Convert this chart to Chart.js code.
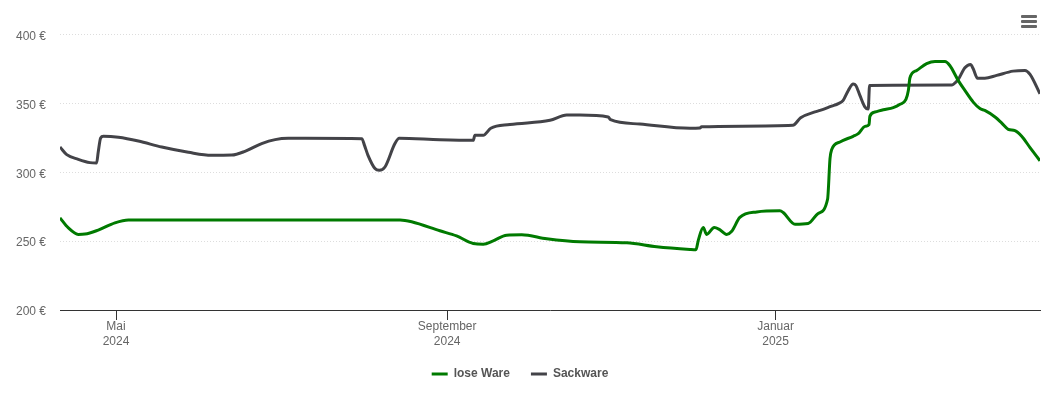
<!DOCTYPE html>
<html lang="de">
<head>
<meta charset="utf-8">
<title>Preisentwicklung</title>
<script src="https://cdn.jsdelivr.net/npm/chart.js@4"></script>
<style>
    body { margin: 0; background: #fff; }
    #wrap { position: relative; width: 1050px; height: 400px; }
    #menu { position: absolute; left: 1021px; top: 15px; width: 16px; }
    #menu i { display: block; height: 3px; margin-bottom: 2px; background: #666; border-radius: 1px; }
</style>
</head>
<body>
<div id="wrap">
    <canvas id="chart" width="1050" height="400"></canvas>
    <div id="menu"><i></i><i></i><i></i></div>
</div>
<script>
// x values are days counted from 1 May 2024
const xMin = -20.8;
const xMax = 343.2;
const tickDays = [0, 123, 245];
const tickLabels = [['Mai', '2024'], ['September', '2024'], ['Januar', '2025']];
const priceTicks = [200, 250, 300, 350, 400];

const looseName = 'lose Ware';
const looseDays = [-20.8, -17.7, -14, -11.5, -6.6, -0.4, 4.6, 9.5, 105.5, 109.8, 120.3, 126.5, 132.7, 136.4, 140.1, 145.1, 150.7, 160, 172.3, 189.7, 200.8, 213.2, 215.4, 216.3, 218.1, 219.4, 222.2, 224.1, 226.8, 228.7, 231.7, 238, 246.6, 247.8, 252.2, 257.1, 260.8, 264.3, 265.2, 265.8, 268.9, 273.8, 275.7, 278.2, 279.7, 280, 281.9, 285, 288.7, 291.2, 293.4, 294.3, 294.9, 297.4, 301.1, 304.2, 307.9, 309.7, 312.8, 315.3, 318.4, 320.9, 322.7, 326.5, 329, 331.4, 333.9, 336.4, 339.5, 343.2];
const loosePrices = [266.9, 259.6, 254.9, 255.1, 258, 263.3, 265.4, 265.4, 265.4, 264.1, 257.5, 253.8, 248.3, 247.8, 250.2, 254.3, 254.6, 251.7, 249.5, 248.8, 245.9, 244, 243.8, 250.7, 259.9, 254.9, 259.9, 258.5, 254.9, 257.2, 267.2, 271.2, 272, 270.8, 262.3, 262.8, 270.1, 280.4, 309.9, 316.4, 322, 326.1, 328, 333.3, 334.6, 340.6, 343.7, 345.4, 346.9, 349.3, 352.9, 359.4, 368.6, 373.9, 378.8, 380.4, 380.4, 377.5, 366.7, 359.4, 350.9, 346.2, 344.9, 340.1, 335.7, 331.2, 330.2, 326.1, 317.9, 308.3];

const sackName = 'Sackware';
const sackDays = [-20.8, -18.3, -14, -9.7, -7.2, -6.6, -5.7, -4.7, 0.9, 8.3, 17, 26.9, 35.5, 43, 47.9, 54.1, 59.1, 64, 70.2, 91.3, 92.3, 93.6, 96.2, 97.8, 99.9, 103.6, 105.2, 120.3, 132.7, 133.3, 136.4, 139.2, 146.3, 161.2, 167.4, 172.3, 182.8, 183.7, 194.6, 213.2, 216.9, 217.5, 251.4, 254.3, 259.6, 261.5, 265.8, 268.3, 270.1, 272, 273.8, 274.8, 276.3, 278.2, 279.4, 279.9, 310.4, 311, 312.8, 315.3, 317.4, 318.4, 320, 322.7, 327.1, 333.2, 337.6, 339.5, 343.2];
const sackPrices = [318.3, 312.8, 309.4, 307, 306.7, 314.7, 324.9, 326.1, 325.4, 322.7, 318.3, 314.5, 312.3, 312.5, 315.2, 320.8, 323.7, 324.6, 324.6, 324.4, 319.5, 312.3, 302.7, 301.4, 303.8, 320.8, 324.6, 323.6, 323.2, 326.8, 326.8, 331.9, 334.6, 337.7, 341.5, 341.5, 340.1, 338.2, 335, 331.9, 332.2, 333, 334.1, 339.6, 343.8, 344.9, 348, 349.8, 352.2, 359.4, 364, 363, 355.8, 347.3, 345.9, 363, 363.3, 363.8, 367.2, 375.9, 378.3, 375.1, 368.3, 368.3, 370.3, 373.4, 373.9, 371, 356.9];

const toPoints = (days, prices) => days.map((d, i) => ({ x: d, y: prices[i] }));

const lineStyle = {
    borderWidth: 3,
    pointRadius: 0,
    cubicInterpolationMode: 'monotone',
    clip: 0
};

const fontFamily = '"Liberation Sans", Arial, sans-serif';

new Chart(document.getElementById('chart'), {
    type: 'line',
    data: {
        datasets: [
            { label: looseName, data: toPoints(looseDays, loosePrices), borderColor: '#007a00', backgroundColor: '#007a00', ...lineStyle },
            { label: sackName, data: toPoints(sackDays, sackPrices), borderColor: '#434348', backgroundColor: '#434348', ...lineStyle }
        ]
    },
    options: {
        responsive: false,
        animation: false,
        devicePixelRatio: 1,
        layout: { padding: { top: 34.5, right: 10, bottom: 10, left: 0 } },
        plugins: {
            tooltip: { enabled: false },
            legend: {
                position: 'bottom',
                labels: {
                    usePointStyle: true,
                    pointStyle: 'line',
                    pointStyleWidth: 16,
                    boxHeight: 3,
                    padding: 21,
                    color: '#555',
                    font: { family: fontFamily, size: 12, weight: 'bold' }
                }
            }
        },
        scales: {
            x: {
                type: 'linear',
                min: xMin,
                max: xMax,
                afterBuildTicks: axis => { axis.ticks = tickDays.map(value => ({ value })); },
                afterFit: axis => { axis.height = 37; },
                grid: { drawOnChartArea: false, drawTicks: true, tickLength: 10, tickColor: '#333', tickWidth: 1 },
                border: { color: '#333', width: 1 },
                ticks: {
                    autoSkip: false,
                    maxRotation: 0,
                    padding: -1,
                    color: '#666',
                    font: { family: fontFamily, size: 12, lineHeight: 1.25 },
                    callback: (value, index) => tickLabels[index]
                }
            },
            y: {
                min: 200,
                max: 400,
                afterBuildTicks: axis => { axis.ticks = priceTicks.map(value => ({ value })); },
                afterFit: axis => { axis.width = 60; },
                grid: { color: '#ddd', drawTicks: false, lineWidth: 1 },
                border: { display: false, dash: [1, 2] },
                ticks: {
                    padding: 14,
                    labelOffset: 2,
                    color: '#666',
                    font: { family: fontFamily, size: 12 },
                    callback: value => value + ' €'
                }
            }
        }
    }
});
</script>
</body>
</html>
